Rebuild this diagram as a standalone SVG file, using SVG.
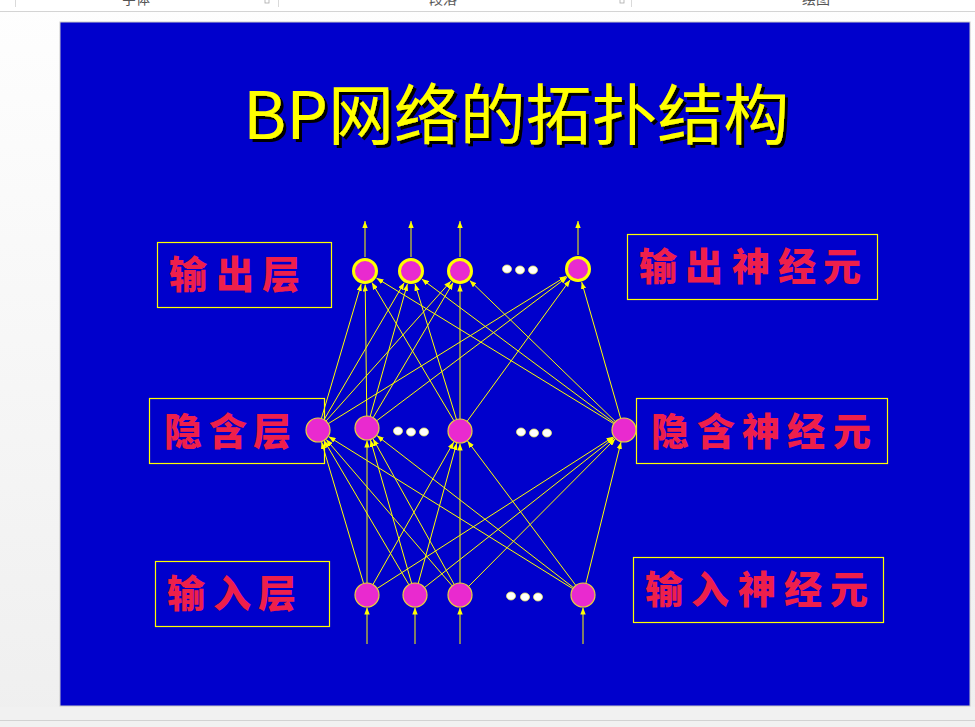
<svg xmlns="http://www.w3.org/2000/svg" width="975" height="727" viewBox="0 0 975 727">
  <defs>
    <linearGradient id="workspace" x1="0" y1="0" x2="0" y2="1">
      <stop offset="0" stop-color="#fefefe"/>
      <stop offset="1" stop-color="#efefef"/>
    </linearGradient>
    <filter id="hardShadow" x="-5%" y="-10%" width="110%" height="130%">
      <feFlood flood-color="#000000" result="ink"/>
      <feComposite in="ink" in2="SourceAlpha" operator="in" result="silhouette"/>
      <feOffset in="silhouette" dx="3" dy="3" result="shifted"/>
      <feMerge>
        <feMergeNode in="shifted"/>
        <feMergeNode in="SourceGraphic"/>
      </feMerge>
    </filter>
    <marker id="tip" viewBox="0 0 7 5.4" refX="7" refY="2.7" markerWidth="7" markerHeight="5.4" markerUnits="userSpaceOnUse" orient="auto">
      <path d="M0,0 L7,2.7 L0,5.4 z" fill="#FFFF00"/>
    </marker>
    <style>
      .ribbon { font-family: "Noto Sans CJK SC", "Noto Sans", sans-serif; font-size: 14px; fill: #555; }
      .title { font-family: "Noto Sans CJK SC", "Noto Sans", sans-serif; font-size: 66px; fill: #FFFF00; }
      .frame { fill: none; stroke: #FFFF00; stroke-width: 1.2; }
      .label { font-family: "Noto Sans CJK SC", sans-serif; font-weight: 900; font-size: 38px; fill: #EE1F4B; }
      .link { stroke: #FFFF00; stroke-width: 1; fill: none; marker-end: url(#tip); }
      .out { fill: #E92ACF; stroke: #FFFF00; stroke-width: 3; }
      .cell { fill: #E92ACF; stroke: #E8D23A; stroke-width: 1.2; }
      .dot { fill: #FFFFFF; stroke: #F0F060; stroke-width: 0.8; }
    </style>
  </defs>

  <!-- editor chrome -->
  <rect x="0" y="0" width="975" height="727" fill="url(#workspace)"/>
  <rect x="0" y="0" width="975" height="11" fill="#FFFFFF"/>
  <line x1="0" y1="11.5" x2="975" y2="11.5" stroke="#D4D4D4" stroke-width="1"/>
  <line x1="15.5" y1="0" x2="15.5" y2="7" stroke="#DADADA"/>
  <line x1="278.5" y1="0" x2="278.5" y2="7" stroke="#DADADA"/>
  <line x1="631.5" y1="0" x2="631.5" y2="7" stroke="#DADADA"/>
  <rect x="265" y="-1" width="4" height="4" fill="none" stroke="#AAAAAA" stroke-width="0.8"/>
  <rect x="620" y="-1" width="4" height="4" fill="none" stroke="#AAAAAA" stroke-width="0.8"/>
  <text class="ribbon" x="122" y="4">字体</text>
  <text class="ribbon" x="429" y="4">段落</text>
  <text class="ribbon" x="802" y="4">绘图</text>
  <rect x="0" y="707" width="975" height="20" fill="#F1F1F1"/>
  <line x1="0" y1="720.5" x2="975" y2="720.5" stroke="#D2D2D2" stroke-width="1"/>

  <!-- slide -->
  <rect x="60" y="22" width="910" height="684" fill="#0000CC" stroke="#C8C8C8" stroke-width="1"/>

  <!-- heading with hard drop shadow -->
  <g id="title">
    <text class="title" x="243" y="139" textLength="546" lengthAdjust="spacingAndGlyphs" filter="url(#hardShadow)">BP网络的拓扑结构</text>
  </g>

  <!-- side captions -->
  <g id="label-output-layer">
    <rect class="frame" x="157.5" y="242.5" width="174" height="65"/>
    <text class="label" x="169 216 262" y="288">输出层</text>
  </g>
  <g id="label-output-neuron">
    <rect class="frame" x="627.5" y="234.5" width="250" height="65"/>
    <text class="label" x="639 685 732 778 823" y="280">输出神经元</text>
  </g>
  <g id="label-hidden-layer">
    <rect class="frame" x="149.5" y="398.5" width="175" height="65"/>
    <text class="label" x="164 209 253" y="445">隐含层</text>
  </g>
  <g id="label-hidden-neuron">
    <rect class="frame" x="636.5" y="398.5" width="251" height="65"/>
    <text class="label" x="651 697 742 787 833" y="445">隐含神经元</text>
  </g>
  <g id="label-input-layer">
    <rect class="frame" x="155.5" y="561.5" width="174" height="65"/>
    <text class="label" x="167 213 258" y="607">输入层</text>
  </g>
  <g id="label-input-neuron">
    <rect class="frame" x="633.5" y="557.5" width="250" height="65"/>
    <text class="label" x="645 691 738 784 830" y="603">输入神经元</text>
  </g>

  <!-- connectors -->
  <g id="connectors">
    <!-- network outputs -->
    <line class="link" x1="365" y1="257" x2="365" y2="221"/>
    <line class="link" x1="411" y1="257" x2="411" y2="221"/>
    <line class="link" x1="460" y1="257" x2="460" y2="221"/>
    <line class="link" x1="578" y1="255" x2="578" y2="221"/>
    <!-- hidden to output -->
    <line class="link" x1="321.4" y1="418.5" x2="361.2" y2="284.0"/>
    <line class="link" x1="324.1" y1="419.6" x2="404.2" y2="282.7"/>
    <line class="link" x1="326.0" y1="421.0" x2="451.0" y2="281.1"/>
    <line class="link" x1="328.2" y1="423.7" x2="566.5" y2="276.1"/>
    <line class="link" x1="366.8" y1="416.0" x2="365.2" y2="284.5"/>
    <line class="link" x1="370.2" y1="416.4" x2="407.4" y2="284.0"/>
    <line class="link" x1="373.1" y1="417.7" x2="453.1" y2="282.6"/>
    <line class="link" x1="376.6" y1="420.8" x2="567.2" y2="277.1"/>
    <line class="link" x1="453.9" y1="420.7" x2="371.9" y2="282.6"/>
    <line class="link" x1="456.5" y1="419.5" x2="415.0" y2="283.9"/>
    <line class="link" x1="460" y1="419" x2="460" y2="284.5"/>
    <line class="link" x1="467.1" y1="421.3" x2="570.1" y2="279.9"/>
    <line class="link" x1="613.8" y1="423.7" x2="376.5" y2="278.1"/>
    <line class="link" x1="614.4" y1="422.8" x2="421.8" y2="279.1"/>
    <line class="link" x1="615.4" y1="421.6" x2="469.7" y2="280.4"/>
    <line class="link" x1="620.7" y1="418.5" x2="581.7" y2="282.0"/>
    <!-- input to hidden -->
    <line class="link" x1="363.6" y1="583.5" x2="321.6" y2="442.0"/>
    <line class="link" x1="367" y1="583" x2="367" y2="440.5"/>
    <line class="link" x1="372.9" y1="584.6" x2="453.8" y2="441.9"/>
    <line class="link" x1="377.1" y1="588.5" x2="613.5" y2="436.8"/>
    <line class="link" x1="408.9" y1="584.7" x2="324.3" y2="440.8"/>
    <line class="link" x1="411.7" y1="583.5" x2="370.5" y2="440.0"/>
    <line class="link" x1="418.2" y1="583.4" x2="456.7" y2="443.1"/>
    <line class="link" x1="424.4" y1="587.6" x2="614.2" y2="437.7"/>
    <line class="link" x1="452.2" y1="585.9" x2="326.2" y2="439.5"/>
    <line class="link" x1="454.2" y1="584.5" x2="373.1" y2="438.9"/>
    <line class="link" x1="460" y1="583" x2="460" y2="443.5"/>
    <line class="link" x1="468.5" y1="586.5" x2="615.2" y2="438.9"/>
    <line class="link" x1="572.8" y1="588.7" x2="328.6" y2="436.6"/>
    <line class="link" x1="573.5" y1="587.7" x2="376.9" y2="435.6"/>
    <line class="link" x1="575.8" y1="585.4" x2="467.5" y2="441.0"/>
    <line class="link" x1="585.9" y1="583.4" x2="621.0" y2="442.1"/>
    <!-- network inputs -->
    <line class="link" x1="367" y1="644" x2="367" y2="607.5"/>
    <line class="link" x1="415" y1="644" x2="415" y2="607.5"/>
    <line class="link" x1="460" y1="644" x2="460" y2="607.5"/>
    <line class="link" x1="583" y1="644" x2="583" y2="607.5"/>
  </g>

  <!-- output layer -->
  <g id="output-1"><circle class="out" cx="365" cy="271" r="11.5"/></g>
  <g id="output-2"><circle class="out" cx="411" cy="271" r="11.5"/></g>
  <g id="output-3"><circle class="out" cx="460" cy="271" r="11.5"/></g>
  <g id="output-n"><circle class="out" cx="578" cy="269" r="11.5"/></g>
  <g id="output-ellipsis">
    <ellipse class="dot" cx="507" cy="269" rx="4.5" ry="4"/>
    <ellipse class="dot" cx="520" cy="270" rx="4.5" ry="4"/>
    <ellipse class="dot" cx="533" cy="270" rx="4.5" ry="4"/>
  </g>

  <!-- hidden layer -->
  <g id="hidden-1"><circle class="cell" cx="318" cy="430" r="12"/></g>
  <g id="hidden-2"><circle class="cell" cx="367" cy="428" r="12"/></g>
  <g id="hidden-3"><circle class="cell" cx="460" cy="431" r="12"/></g>
  <g id="hidden-n"><circle class="cell" cx="624" cy="430" r="12"/></g>
  <g id="hidden-ellipsis-a">
    <ellipse class="dot" cx="398" cy="431" rx="4.5" ry="4"/>
    <ellipse class="dot" cx="411" cy="432" rx="4.5" ry="4"/>
    <ellipse class="dot" cx="424" cy="432" rx="4.5" ry="4"/>
  </g>
  <g id="hidden-ellipsis-b">
    <ellipse class="dot" cx="521" cy="432" rx="4.5" ry="4"/>
    <ellipse class="dot" cx="534" cy="433" rx="4.5" ry="4"/>
    <ellipse class="dot" cx="547" cy="433" rx="4.5" ry="4"/>
  </g>

  <!-- input layer -->
  <g id="input-1"><circle class="cell" cx="367" cy="595" r="12"/></g>
  <g id="input-2"><circle class="cell" cx="415" cy="595" r="12"/></g>
  <g id="input-3"><circle class="cell" cx="460" cy="595" r="12"/></g>
  <g id="input-n"><circle class="cell" cx="583" cy="595" r="12"/></g>
  <g id="input-ellipsis">
    <ellipse class="dot" cx="511" cy="596" rx="4.5" ry="4"/>
    <ellipse class="dot" cx="525" cy="597" rx="4.5" ry="4"/>
    <ellipse class="dot" cx="538" cy="597" rx="4.5" ry="4"/>
  </g>
</svg>
